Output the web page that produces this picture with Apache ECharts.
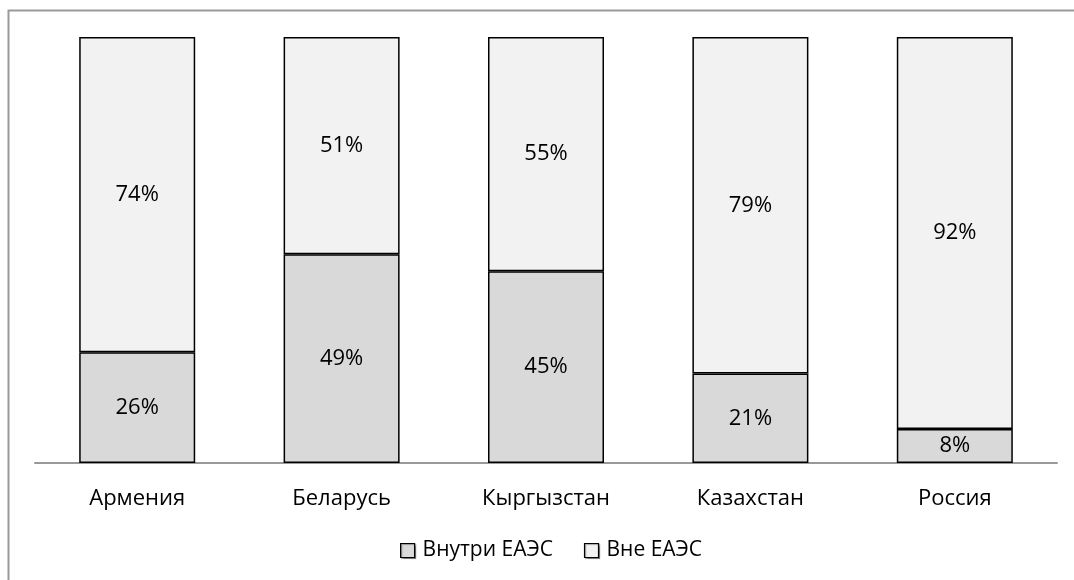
<!DOCTYPE html>
<html><head><meta charset="utf-8">
<script src="https://cdn.jsdelivr.net/npm/echarts@6/dist/echarts.min.js"></script>
<style>html,body{margin:0;padding:0;background:#fff}#c{width:1074px;height:580px}</style>
</head><body><div id="c"></div>
<script>
const categories = ['Армения','Беларусь','Кыргызстан','Казахстан','Россия'];
const inside = [26,49,45,21,8];
const outside = [74,51,55,79,92];
const seriesNames = ['Внутри ЕАЭС','Вне ЕАЭС'];
const FONT = '"Open Sans", sans-serif';
const chart = echarts.init(document.getElementById('c'));
const lbl = {show:true,position:'inside',formatter:'{c}%',color:'#000',fontFamily:FONT,fontSize:22};
chart.setOption({
  animation:false,
  textStyle:{fontFamily:FONT},
  graphic:[{type:'rect',shape:{x:8.5,y:10.5,width:1100,height:600},style:{fill:null,stroke:'#9a9a9a',lineWidth:2},silent:true}],
  grid:{left:35,right:17,top:37,bottom:117,containLabel:false},
  legend:{top:540,left:400,padding:0,itemWidth:14,itemHeight:14,itemGap:31,icon:'rect',
    itemStyle:{borderColor:'#000',borderWidth:1.2,shadowColor:'rgba(0,0,0,0.35)',shadowOffsetX:1,shadowOffsetY:1,shadowBlur:1},
    textStyle:{fontFamily:FONT,fontSize:21,color:'#000',padding:[0,0,0,3]},
    data:seriesNames},
  xAxis:{type:'category',data:categories,axisTick:{show:false},
    axisLine:{lineStyle:{color:'#999',width:2}},
    axisLabel:{color:'#000',fontFamily:FONT,fontSize:22,margin:25}},
  yAxis:{type:'value',min:0,max:100,show:false,splitLine:{show:false}},
  series:[
    {name:seriesNames[0],type:'bar',stack:'s',data:inside,barWidth:116,
     itemStyle:{color:'#d9d9d9',borderColor:'#000',borderWidth:1.5},label:lbl},
    {name:seriesNames[1],type:'bar',stack:'s',data:outside,barWidth:116,
     itemStyle:{color:'#f2f2f2',borderColor:'#000',borderWidth:1.5},label:lbl}
  ]
});
</script></body></html>
